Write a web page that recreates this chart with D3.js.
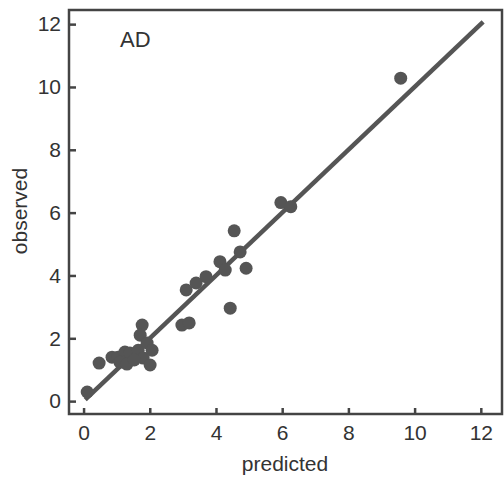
<!DOCTYPE html>
<html><head><meta charset="utf-8">
<script src="https://cdn.jsdelivr.net/npm/d3@7"></script>
<style>body{margin:0;background:#fff}svg{display:block}</style>
</head><body>
<script>
const predicted = [9.58,5.96,6.26,4.55,4.73,4.91,4.12,4.28,3.70,3.40,3.10,4.43,2.97,3.19,
  0.11,0.47,0.86,1.04,1.25,1.40,1.65,1.80,2.01,1.10,1.31,1.77,1.71,1.92,2.07,1.53];
const observed  = [10.28,6.32,6.19,5.42,4.75,4.23,4.44,4.17,3.96,3.76,3.54,2.96,2.42,2.49,
  0.29,1.21,1.40,1.40,1.56,1.53,1.62,1.37,1.15,1.24,1.18,2.42,2.10,1.85,1.62,1.31];
const xTicks = [0,2,4,6,8,10,12];
const yTicks = [0,2,4,6,8,10,12];
const fitLine = [[0.05,0.05],[12.07,12.07]];
const panelLabel = "AD";

const W=504,H=478;
const svg=d3.select("body").append("svg").attr("width",W).attr("height",H);
const x=d3.scaleLinear().domain([-0.44,12.64]).range([69,502]);
const y=d3.scaleLinear().domain([-0.41,12.45]).range([414,10]);
const col="#555", font="'Liberation Sans', Arial, sans-serif";

// axes
const xa=svg.append("g").attr("transform","translate(0,414)")
  .call(d3.axisBottom(x).tickValues(xTicks).tickSizeInner(-6).tickSizeOuter(0).tickPadding(11));
const ya=svg.append("g").attr("transform","translate(69,0)")
  .call(d3.axisLeft(y).tickValues(yTicks).tickSizeInner(-7).tickSizeOuter(0).tickPadding(8));
[xa,ya].forEach(a=>{
  a.select(".domain").remove();
  a.selectAll(".tick line").attr("stroke","#444").attr("stroke-width",2.5);
  a.selectAll(".tick text").attr("fill","#333").attr("font-family",font).attr("font-size",21);
});

// frame
svg.append("rect").attr("x",69).attr("y",10).attr("width",502-69).attr("height",414-10)
  .attr("fill","none").attr("stroke","#444").attr("stroke-width",2.5);

// fit line
svg.append("line").attr("x1",x(fitLine[0][0])).attr("y1",y(fitLine[0][1]))
  .attr("x2",x(fitLine[1][0])).attr("y2",y(fitLine[1][1]))
  .attr("stroke",col).attr("stroke-width",4.5);

// points
svg.append("g").selectAll("circle").data(predicted.map((p,i)=>[p,observed[i]])).join("circle")
  .attr("cx",d=>x(d[0])).attr("cy",d=>y(d[1])).attr("r",6.5).attr("fill",col);

// labels
svg.append("text").attr("x",120).attr("y",47).text(panelLabel)
  .attr("font-family",font).attr("font-size",22).attr("fill","#333");
svg.append("text").attr("x",285).attr("y",471).attr("text-anchor","middle").text("predicted")
  .attr("font-family",font).attr("font-size",21).attr("fill","#333");
svg.append("text").attr("transform","translate(27,211) rotate(-90)").attr("text-anchor","middle")
  .text("observed").attr("font-family",font).attr("font-size",21).attr("fill","#333");
</script>
</body></html>
